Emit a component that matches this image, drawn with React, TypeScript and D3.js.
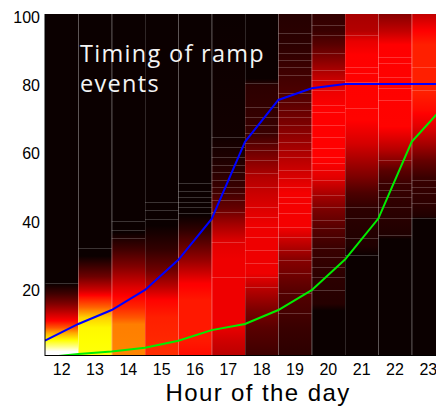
import React from "react"
import * as d3 from "d3"

const W = 436
const H = 407
const margin = { left: 45, top: 14, bottom: 52 }

// hours shown as image columns
const HOURS = [12, 13, 14, 15, 16, 17, 18, 19, 20, 21, 22, 23]
// line points sit on the column edges
const EDGES = [11.5, 12.5, 13.5, 14.5, 15.5, 16.5, 17.5, 18.5, 19.5, 20.5, 21.5, 22.5, 23.5]
const BLUE = [5.2, 10.1, 14.2, 20.1, 28.9, 40.9, 63.5, 75.8, 79.2, 80.5, 80.5, 80.5, 80.5]
const GREEN = [0.3, 1.3, 2, 3.1, 5.2, 8.3, 10.1, 14.2, 20, 29, 41, 63.5, 74.3]
const Y_TICKS = [20, 40, 60, 80, 100]

// intensity profile of each hour column: [value on y axis, level 0..1 of the "hot" map]
const COLUMN_STOPS = [
  [[101, 0], [22, 0], [19, 0.08], [16, 0.18], [13, 0.3], [11, 0.38], [9, 0.5], [7.5, 0.62], [5.5, 0.74], [3.5, 0.88], [2, 1], [1, 1]],
  [[101, 0], [30, 0], [28, 0.05], [24, 0.15], [20, 0.3], [18, 0.4], [15, 0.52], [12, 0.68], [9, 0.74], [1, 0.76]],
  [[101, 0], [37, 0], [32, 0.08], [27, 0.18], [21, 0.32], [18, 0.38], [15, 0.43], [12, 0.5], [10, 0.56], [1, 0.57]],
  [[101, 0], [39, 0], [32, 0.06], [26, 0.15], [21, 0.27], [17, 0.38], [12, 0.42], [1, 0.44]],
  [[101, 0], [42, 0], [38, 0.05], [34, 0.12], [29, 0.21], [25, 0.3], [22, 0.37], [17, 0.41], [5, 0.41], [1, 0.39]],
  [[101, 0], [65, 0.01], [58, 0.03], [50, 0.07], [44, 0.14], [39, 0.24], [34, 0.33], [29, 0.35], [10, 0.35], [5, 0.3], [1, 0.27]],
  [[101, 0], [82, 0], [80, 0.05], [66, 0.07], [63, 0.12], [58, 0.19], [53, 0.26], [46, 0.31], [39, 0.35], [25, 0.35], [20, 0.26], [14, 0.17], [9, 0.12], [1, 0.08]],
  [[101, 0.04], [92, 0.05], [78, 0.1], [68, 0.18], [58, 0.27], [48.5, 0.36], [38.5, 0.36], [34, 0.28], [29, 0.19], [19, 0.11], [9, 0.07], [1, 0.05]],
  [[101, 0.06], [96, 0.07], [92, 0.12], [87.5, 0.19], [82.5, 0.28], [78, 0.35], [73, 0.375], [58, 0.375], [53, 0.33], [48, 0.24], [43.5, 0.17], [38.5, 0.12], [32, 0.07], [24, 0.05], [16, 0.04], [14, 0], [1, 0]],
  [[101, 0.24], [96, 0.26], [93, 0.34], [89, 0.375], [70, 0.38], [63, 0.31], [58, 0.24], [53, 0.17], [48.5, 0.1], [43.5, 0.05], [33, 0.03], [30, 0], [1, 0]],
  [[101, 0.19], [96, 0.28], [92, 0.375], [68, 0.38], [65, 0.33], [61, 0.26], [58, 0.19], [55, 0.12], [51, 0.07], [43.5, 0.05], [36, 0.03], [35, 0], [1, 0]],
  [[101, 0.28], [96, 0.375], [92, 0.42], [78, 0.42], [73, 0.39], [68, 0.33], [63, 0.24], [58, 0.14], [53, 0.07], [45, 0.05], [41.5, 0.03], [41, 0], [1, 0]],
]

// faint light rows seen in each column
const COLUMN_STRIPES = [
  [22],
  [32.3],
  [40.3, 37.8, 35.4],
  [46, 43.4, 41],
  [51.3, 49, 47.4, 46, 44.5, 42.6],
  [65, 62, 59.2, 56.7, 54.8, 52.3, 50.4, 48.4, 46.5, 43, 34, 24],
  [80.7, 73.8, 70.9, 68.4, 66, 63.1, 61.1, 58.2, 54.3, 50.4, 44.5, 41.6, 38.6, 35.7, 31.8, 27.9, 24, 21],
  [95.3, 92.4, 89.5, 87.5, 85.5, 83.1, 77.7, 75.3, 72.8, 70.9, 68.4, 66, 63.5, 61.1, 59.2, 55.3, 52.8, 50.4, 47.4, 45.5, 42.6, 38.6, 35.7, 31.8, 28.9, 25, 19.1, 13.2],
  [97.8, 94.8, 89.5, 84.6, 81.6, 78.7, 74.3, 72.3, 68.4, 65, 61.6, 59.2, 57.2, 55.3, 52.3, 47.9, 44.5, 40.6, 38.2, 35.7, 32.3, 29.8, 26.9, 24, 20.1],
  [94.8, 85.5, 83.6, 81.1, 73.3, 44.5, 41.1, 35.2, 30.3],
  [88.5, 86.5, 82.6, 79.2, 75.8, 58.2, 51.3, 49.4, 47.4, 44.5, 41.1, 36.2],
  [85.5, 78.7, 52.3, 50.4, 48.4, 45.5, 41.1],
]

const hot = d3
  .scaleLinear<string>()
  .domain([0, 0.375, 0.75, 1])
  .range(["#0b0000", "#ff0000", "#ffff00", "#ffffff"])
  .clamp(true)

// add stops where the hot map bends so the svg gradient follows it
function withBreaks(stops: number[][]) {
  const out: number[][] = []
  for (let i = 0; i < stops.length; i++) {
    out.push(stops[i])
    if (i === stops.length - 1) break
    const [v0, l0] = stops[i]
    const [v1, l1] = stops[i + 1]
    const bs = [0.375, 0.75].filter((b) => (l0 - b) * (l1 - b) < 0)
    if (l1 < l0) bs.reverse()
    bs.forEach((b) => {
      const t = (b - l0) / (l1 - l0)
      out.push([v0 + (v1 - v0) * t, b])
    })
  }
  return out
}

export default function App() {
  const x = d3.scaleLinear().domain([11.5, 23.5]).range([margin.left, 445])
  const y = d3.scaleLinear().domain([1, 101]).range([H - margin.bottom, margin.top])
  const plotW = W - margin.left
  const plotH = y(1) - y(101)

  const line = d3
    .line<number>()
    .x((d, i) => x(EDGES[i]))
    .y((d) => y(d))

  return (
    <svg
      width={W}
      height={H}
      style={{ position: "absolute", left: 0, top: 0, background: "#fff" }}
    >
      <defs>
        <clipPath id="plot">
          <rect x={margin.left} y={margin.top} width={plotW} height={plotH} />
        </clipPath>
        {HOURS.map((h, i) => (
          <linearGradient
            key={h}
            id={"col" + h}
            gradientUnits="userSpaceOnUse"
            x1={0}
            x2={0}
            y1={y(101)}
            y2={y(1)}
          >
            {withBreaks(COLUMN_STOPS[i]).map((s, j) => (
              <stop key={j} offset={(101 - s[0]) / 100} stopColor={hot(s[1])} />
            ))}
          </linearGradient>
        ))}
      </defs>

      <g clipPath="url(#plot)">
        {HOURS.map((h) => (
          <rect
            key={h}
            x={x(h - 0.5)}
            y={y(101)}
            width={x(h + 0.5) - x(h - 0.5)}
            height={plotH}
            fill={"url(#col" + h + ")"}
          />
        ))}
        {HOURS.map((h, i) =>
          COLUMN_STRIPES[i].map((v, j) => (
            <line
              key={h + "-" + j}
              x1={x(h - 0.5)}
              x2={x(h + 0.5)}
              y1={Math.round(y(v)) + 0.5}
              y2={Math.round(y(v)) + 0.5}
              stroke="#fff"
              strokeOpacity={0.2}
            />
          ))
        )}
        {EDGES.slice(1, -1).map((e) => (
          <line
            key={e}
            x1={Math.round(x(e)) + 0.5}
            x2={Math.round(x(e)) + 0.5}
            y1={y(101)}
            y2={y(1)}
            stroke="#fff"
            strokeOpacity={0.15}
          />
        ))}
        <path d={line(BLUE) || ""} fill="none" stroke="#0000ff" strokeWidth={2} />
        <path d={line(GREEN) || ""} fill="none" stroke="#00ee00" strokeWidth={2} />
      </g>

      <line x1={margin.left} x2={margin.left} y1={y(101)} y2={y(1) + 1} stroke="#000" />
      <line x1={margin.left} x2={W} y1={y(1) + 0.5} y2={y(1) + 0.5} stroke="#000" />

      <g fontFamily="Liberation Sans, Arial, sans-serif" fontSize={16} fill="#000">
        {Y_TICKS.map((t) => (
          <text key={t} x={40} y={y(t)} dy="0.35em" textAnchor="end">
            {t}
          </text>
        ))}
        {HOURS.map((h) => (
          <text key={h} x={x(h)} y={375} textAnchor="middle">
            {h}
          </text>
        ))}
        <text x={258} y={401} textAnchor="middle" fontSize={24} letterSpacing={1.4}>
          Hour of the day
        </text>
      </g>

      <g fontFamily="Open Sans, sans-serif" fontSize={23.5} fill="#f4f4f4" letterSpacing={1.3}>
        <text x={80} y={62}>Timing of ramp</text>
        <text x={80} y={92}>events</text>
      </g>
    </svg>
  )
}
